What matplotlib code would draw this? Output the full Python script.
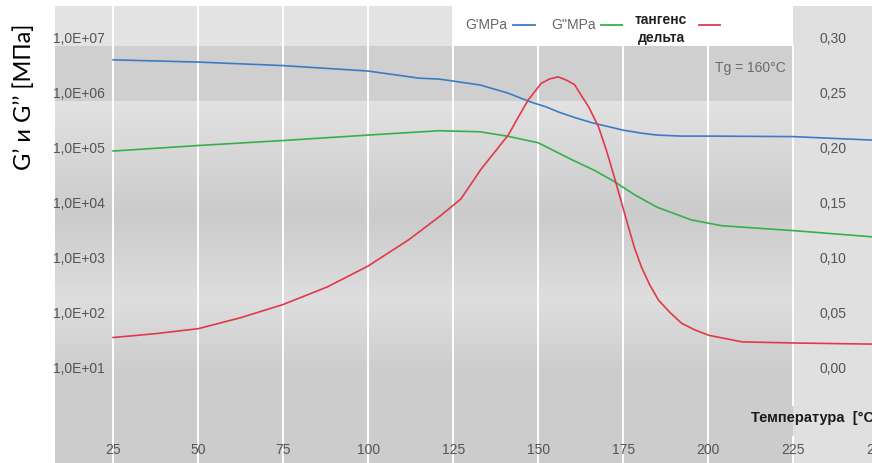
import numpy as np
import matplotlib.pyplot as plt
from matplotlib.colors import LinearSegmentedColormap
from matplotlib.lines import Line2D

# температура, °C
temp_g1 = [25, 50, 75, 100, 115, 121, 133, 141, 148, 152.4, 156, 161.2, 166,
           175, 180.4, 185, 192, 200, 225, 248]
# G' (модуль накопления), МПа
g1 = [5.6e6, 5.1e6, 4.4e6, 3.5e6, 2.6e6, 2.5e6, 1.95e6, 1.4e6, 9.5e5, 7.8e5,
      6.3e5, 4.9e5, 4.0e5, 2.95e5, 2.6e5, 2.4e5, 2.3e5, 2.3e5, 2.25e5, 1.95e5]

temp_g2 = [25, 50, 75, 100, 121, 133, 141, 150, 160, 166.5, 172, 178.5, 185,
           195, 204, 225, 248]
# G'' (модуль потерь), МПа
g2 = [1.23e5, 1.55e5, 1.91e5, 2.4e5, 2.88e5, 2.75e5, 2.29e5, 1.74e5, 8.5e4,
      5.5e4, 3.55e4, 1.95e4, 1.17e4, 6.9e3, 5.4e3, 4.4e3, 3.4e3]

temp_tan = [25, 37.5, 50, 62.5, 75, 88, 100, 112, 121.4, 127.3, 133.2, 141.2,
            144.1, 147.1, 150.9, 153.3, 155.9, 158.3, 160.7, 162.7, 164.8,
            167.7, 170.1, 172.4, 174.5, 176.6, 178.3, 180.4, 182.8, 185.4,
            188.7, 192.2, 196.0, 200.2, 210, 225.5, 248.2]
tan_delta = [0.035, 0.0385, 0.043, 0.053, 0.065, 0.081, 0.100, 0.124, 0.146,
             0.161, 0.188, 0.219, 0.235, 0.251, 0.266, 0.270, 0.272, 0.269,
             0.265, 0.255, 0.245, 0.227, 0.205, 0.181, 0.158, 0.135, 0.117,
             0.099, 0.083, 0.069, 0.058, 0.048, 0.042, 0.037, 0.031, 0.030,
             0.029]

x_ticks = [25, 50, 75, 100, 125, 150, 175, 200, 225, 250]
g_ticks = [1e1, 1e2, 1e3, 1e4, 1e5, 1e6, 1e7]
g_tick_labels = ['1,0E+01', '1,0E+02', '1,0E+03', '1,0E+04', '1,0E+05', '1,0E+06', '1,0E+07']
tan_ticks = [0.0, 0.05, 0.10, 0.15, 0.20, 0.25, 0.30]
tan_tick_labels = ['0,00', '0,05', '0,10', '0,15', '0,20', '0,25', '0,30']

W, H = 872, 463
BLUE = '#3b7cc4'
GREEN = '#35b04c'
RED = '#e2394a'
TICK_COLOR = '#555555'
TICK_FONT = 'Liberation Sans'


def fx(px):
    return px / W


def fy(py):
    return 1 - py / H


fig = plt.figure(figsize=(W / 100, H / 100), dpi=100)
fig.patch.set_facecolor('white')

ax = fig.add_axes([fx(55), 0, 1 - fx(55), fy(6)])
ax.set_facecolor('none')
ax.set_yscale('log')
XLIM = (7.9, 248.2)
YLIM = (10 ** -0.582, 10 ** 7.727)
ax.set_xlim(*XLIM)
ax.set_ylim(*YLIM)
for s in ax.spines.values():
    s.set_visible(False)
ax.set_xticks([])
ax.set_yticks([])
ax.minorticks_off()

ax2 = ax.twinx()
ax2.set_ylim(-0.0791, 0.3364)
for s in ax2.spines.values():
    s.set_visible(False)
ax2.set_yticks([])

# фон: полосы и градиент
to_axes = ax.transAxes.inverted()
f225, f1e6 = to_axes.transform(ax.transData.transform((225, 1e6)))
f125, f1e7 = to_axes.transform(ax.transData.transform((125, 1e7)))

grad = LinearSegmentedColormap.from_list(
    'bg', [(0.0, '#cccccc'), (0.257, '#cdcdcd'), (0.45, '#dedede'),
           (0.685, '#cbcbcb'), (1.0, '#e2e2e2')])
ax.imshow(np.linspace(0, 1, 256).reshape(-1, 1), cmap=grad, origin='lower',
          aspect='auto', extent=(0, f225, 0, f1e6), transform=ax.transAxes,
          interpolation='bilinear', zorder=0)
ax.axhspan(1e6, 1e7, xmin=0, xmax=f225, color='#cfcfcf', lw=0, zorder=0)
ax.axhspan(1e7, YLIM[1], xmin=0, xmax=f125, color='#e3e3e3', lw=0, zorder=0)
ax.axvspan(225, XLIM[1], color='#e0e0e0', lw=0, zorder=0)
ax.set_xlim(*XLIM)
ax.set_ylim(*YLIM)

# вертикальная сетка
for t in x_ticks[:-1]:
    if t == 225:
        ax.axvline(t, ymin=0, ymax=0.057, color='white', lw=1.4, zorder=1)
        ax.axvline(t, ymin=0.127, ymax=f1e7, color='white', lw=1.4, zorder=1)
    elif t > 125:
        ax.axvline(t, ymin=0, ymax=f1e7, color='white', lw=1.4, zorder=1)
    else:
        ax.axvline(t, color='white', lw=1.4, zorder=1)

# кривые
ax.plot(temp_g1, g1, color=BLUE, lw=1.2, zorder=3, solid_joinstyle='round')
ax.plot(temp_g2, g2, color=GREEN, lw=1.2, zorder=3, solid_joinstyle='round')
ax2.plot(temp_tan, tan_delta, color=RED, lw=1.2, zorder=3, solid_joinstyle='round')

# подписи осей
yl = ax.get_yaxis_transform()
for v, lab in zip(g_ticks, g_tick_labels):
    ax.text(0.061, v, lab, transform=yl, ha='right', va='bottom',
            fontsize=10, color=TICK_COLOR, family=TICK_FONT)

yr = ax2.get_yaxis_transform()
for v, lab in zip(tan_ticks, tan_tick_labels):
    ax2.text(0.952, v, lab, transform=yr, ha='center', va='bottom',
             fontsize=10, color=TICK_COLOR, family=TICK_FONT)

xl = ax.get_xaxis_transform()
for t in x_ticks:
    ax.text(t, 0.028, str(t), transform=xl, ha='center', va='center',
            fontsize=10, color=TICK_COLOR, family=TICK_FONT, clip_on=False)

fig.text(fx(751), fy(418), 'Температура  [°C]', ha='left', va='center',
         fontsize=10.5, fontweight='bold', color='#1a1a1a', family=TICK_FONT)
fig.text(fx(24), fy(97), 'G’ и G’’ [МПа]', rotation=90, ha='center', va='center',
         fontsize=17, color='black', family='Lato')
ax.text(0.851, 10 ** 6.6, 'Tg = 160°C', transform=yl, ha='center', va='center',
        fontsize=10, color='#6a6a6a', family=TICK_FONT)

# легенда
fig.text(fx(465), fy(25), "G'MPa", ha='left', va='center', fontsize=10,
         color='#666666', family=TICK_FONT)
fig.text(fx(551), fy(25), "G''MPa", ha='left', va='center', fontsize=10,
         color='#666666', family=TICK_FONT)
fig.text(fx(661), fy(29), 'тангенс\nдельта', ha='center', va='center',
         fontsize=10, fontweight='bold', color='#1f1f1f', family=TICK_FONT,
         linespacing=1.35)
for x0, x1, c in [(513, 535, BLUE), (601, 622, GREEN), (699, 720, RED)]:
    fig.add_artist(Line2D([fx(x0), fx(x1)], [fy(25), fy(25)], color=c, lw=1.3,
                          transform=fig.transFigure))

fig.savefig('out.png', dpi=100)
